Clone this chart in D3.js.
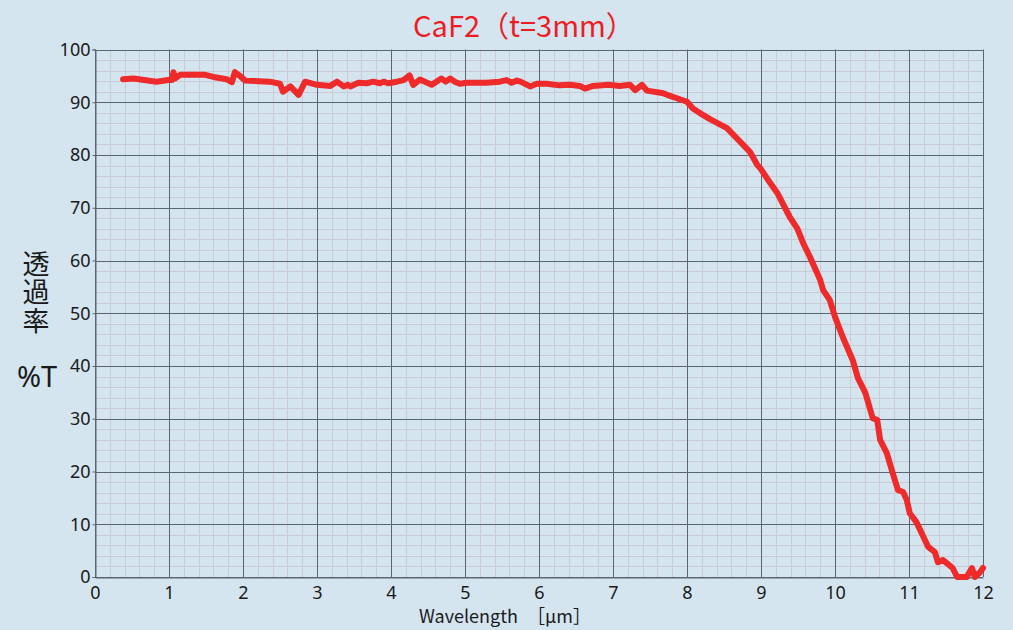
<!DOCTYPE html>
<html>
<head>
<meta charset="utf-8">
<script src="https://cdn.jsdelivr.net/npm/d3@7/dist/d3.min.js"></script>
<style>
  body { margin: 0; background: #d4e5f0; }
  svg { display: block; }
</style>
</head>
<body>
<script>
// chart data
var wavelength = [0.38,0.52,0.83,0.99,1.04,1.06,1.08,1.15,1.37,1.49,1.60,1.78,1.85,1.89,1.94,2.03,2.36,2.50,2.54,2.64,
  2.75,2.84,3.00,3.18,3.27,3.36,3.42,3.45,3.56,3.67,3.76,3.85,3.90,3.96,4.08,4.17,4.25,4.30,4.39,4.55,
  4.68,4.74,4.80,4.86,4.93,5.02,5.29,5.47,5.56,5.63,5.70,5.75,5.88,5.97,6.10,6.28,6.42,6.55,6.62,6.73,
  6.94,7.09,7.23,7.30,7.39,7.46,7.68,7.77,8.00,8.08,8.18,8.31,8.54,8.72,8.85,8.95,8.99,9.08,9.22,9.39,
  9.49,9.57,9.66,9.80,9.84,9.93,10.00,10.11,10.24,10.31,10.41,10.51,10.57,10.61,10.70,10.78,10.85,10.92,10.97,11.01,
  11.10,11.26,11.35,11.39,11.46,11.59,11.65,11.78,11.85,11.89,11.96,12.00];
var transmittance = [94.35,94.5,93.9,94.2,94.2,95.7,94.5,95.2,95.2,95.2,94.8,94.35,93.8,95.7,95.2,94.1,93.9,93.5,92.0,93.0,
  91.4,93.9,93.3,93.1,93.9,93.0,93.3,93.0,93.7,93.6,93.9,93.6,93.9,93.6,93.9,94.2,95.1,93.3,94.3,93.3,
  94.5,93.9,94.5,93.9,93.5,93.7,93.7,93.9,94.2,93.7,94.1,93.9,93.0,93.5,93.5,93.2,93.3,93.1,92.6,93.1,
  93.3,93.1,93.3,92.3,93.3,92.2,91.7,91.2,90.1,88.8,87.9,86.8,85.1,82.5,80.6,78.1,77.5,75.6,72.8,68.2,
  66.1,63.3,60.7,56.3,54.4,52.5,49.3,45.3,41.1,37.7,34.9,30.1,29.8,26.0,23.5,19.7,16.5,16.1,14.6,12.1,
  10.4,5.7,4.7,2.8,3.2,1.7,0,0,1.7,0,0.9,1.7];
var xTicks = [0,1,2,3,4,5,6,7,8,9,10,11,12];
var yTicks = [0,10,20,30,40,50,60,70,80,90,100];
var titleText = "CaF2（t=3mm）";
var xLabel = "Wavelength　［μm］";
var yLabel = "透過率";
var yUnit = "%T";

var w = 1013;
var h = 630;
var pLeft = 95, pRight = 983, pTop = 49.5, pBottom = 577;

var svg = d3.select("body").append("svg")
  .attr("width", w)
  .attr("height", h);

svg.append("rect").attr("width", w).attr("height", h).attr("fill", "#d4e5f0");

var x = d3.scaleLinear().domain([0, 12]).range([pLeft, pRight]);
var y = d3.scaleLinear().domain([0, 100]).range([pBottom, pTop]);

// minor grid (0.2 um / 2 %)
var minorX = d3.range(0, 61, 1).filter(function (d) { return d % 5 !== 0; }).map(function (d) { return d / 5; });
var minorY = d3.range(0, 101, 2).filter(function (d) { return d % 10 !== 0; });

var grid = svg.append("g");
grid.selectAll(".mx").data(minorX).enter().append("line")
  .attr("x1", function (d) { return Math.round(x(d)) + 0.5; })
  .attr("x2", function (d) { return Math.round(x(d)) + 0.5; })
  .attr("y1", pTop).attr("y2", pBottom)
  .attr("stroke", "#cacbd4").attr("stroke-width", 1);
grid.selectAll(".my").data(minorY).enter().append("line")
  .attr("y1", function (d) { return Math.round(y(d)) + 0.5; })
  .attr("y2", function (d) { return Math.round(y(d)) + 0.5; })
  .attr("x1", pLeft).attr("x2", pRight)
  .attr("stroke", "#cacbd4").attr("stroke-width", 1);

// major grid
grid.selectAll(".Mx").data(xTicks).enter().append("line")
  .attr("x1", function (d) { return Math.round(x(d)) + 0.5; })
  .attr("x2", function (d) { return Math.round(x(d)) + 0.5; })
  .attr("y1", pTop).attr("y2", pBottom)
  .attr("stroke", "#5c6670").attr("stroke-width", 1);
grid.selectAll(".My").data(yTicks).enter().append("line")
  .attr("y1", function (d) { return Math.round(y(d)) + 0.5; })
  .attr("y2", function (d) { return Math.round(y(d)) + 0.5; })
  .attr("x1", pLeft).attr("x2", pRight)
  .attr("stroke", "#5c6670").attr("stroke-width", 1);

// axes
var xAxis = svg.append("g")
  .attr("transform", "translate(0," + (Math.round(pBottom) + 0.5) + ")")
  .call(d3.axisBottom(x).tickValues(xTicks).tickSize(0).tickPadding(9).tickFormat(d3.format("d")));
var yAxis = svg.append("g")
  .attr("transform", "translate(" + (pLeft + 0.5) + ",0)")
  .call(d3.axisLeft(y).tickValues(yTicks).tickSize(3).tickPadding(2).tickFormat(d3.format("d")));

[xAxis, yAxis].forEach(function (a) {
  a.select(".domain").attr("stroke", "#5c6670");
  a.selectAll(".tick line").attr("stroke", "#5c6670");
  a.selectAll("text")
    .attr("fill", "#1a1a1a")
    .style("font-family", "'Noto Sans', sans-serif")
    .style("font-size", "18px");
});

// the curve
var pts = wavelength.map(function (d, i) { return [d, transmittance[i]]; });
var line = d3.line()
  .x(function (d) { return x(d[0]); })
  .y(function (d) { return y(d[1]); });

svg.append("path")
  .datum(pts)
  .attr("d", line)
  .attr("fill", "none")
  .attr("stroke", "#ee2a2a")
  .attr("stroke-width", 6)
  .attr("stroke-linejoin", "round")
  .attr("stroke-linecap", "round");

// title
svg.append("text")
  .attr("x", 524).attr("y", 37)
  .attr("text-anchor", "middle")
  .attr("fill", "#ee1c25")
  .style("font-family", "'Noto Sans CJK JP', sans-serif")
  .style("font-size", "29px")
  .text(titleText);

// axis titles
svg.append("text")
  .attr("x", 505).attr("y", 623)
  .attr("text-anchor", "middle")
  .attr("fill", "#1a1a1a")
  .style("font-family", "'Noto Sans CJK JP', sans-serif")
  .style("font-size", "18px")
  .text(xLabel);

// vertical y title
svg.append("text")
  .attr("x", 36).attr("y", 250)
  .attr("fill", "#1a1a1a")
  .style("writing-mode", "vertical-rl")
  .style("letter-spacing", "1.5px")
  .style("font-family", "'Noto Sans CJK JP', sans-serif")
  .style("font-size", "27px")
  .text(yLabel);

svg.append("text")
  .attr("x", 37).attr("y", 387)
  .attr("text-anchor", "middle")
  .attr("fill", "#1a1a1a")
  .style("font-family", "'Noto Sans', sans-serif")
  .style("font-size", "29px")
  .text(yUnit);
</script>
</body>
</html>
